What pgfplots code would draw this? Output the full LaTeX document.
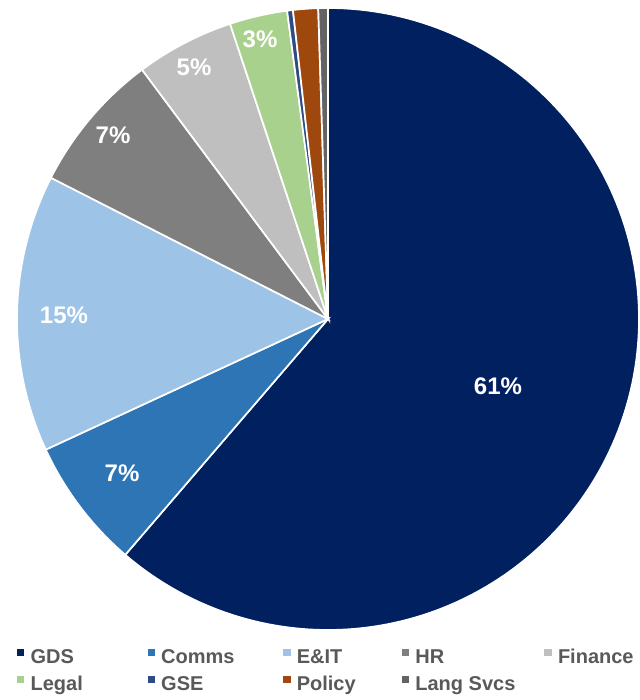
\documentclass[border=0pt]{standalone}
\usepackage{pgfplots}
\pgfplotsset{compat=1.18}
\usepackage{pgfplotstable}
\usepackage{fontspec}
\setmainfont{Liberation Sans}

\definecolor{cGDS}{HTML}{002060}
\definecolor{cComms}{HTML}{2E75B6}
\definecolor{cEIT}{HTML}{9DC3E6}
\definecolor{cHR}{HTML}{7F7F7F}
\definecolor{cFin}{HTML}{BFBFBF}
\definecolor{cLegal}{HTML}{A9D18E}
\definecolor{cGSE}{HTML}{2F4B85}
\definecolor{cPolicy}{HTML}{9E480E}
\definecolor{cLang}{HTML}{636363}
\definecolor{cText}{HTML}{595959}

\pgfplotstableread{
name value
GDS 61.3
Comms 6.8
EIT 14.4
HR 7.3
Finance 5.1
Legal 3.0
GSE 0.3
Policy 1.3
LangSvcs 0.5
}\piedata

\newcommand\slice[2]{%
  \addplot[fill=#2, draw=white, line width=1.7bp,
    domain=\csname sb#1\endcsname:\csname sa#1\endcsname, samples=150]
    ({311*cos(x)},{311*sin(x)}) -- (axis cs:0,0) -- cycle;}

\begin{document}
\begin{tikzpicture}
\def\cum{0}
\pgfplotsforeachungrouped \i in {0,...,8}{%
  \pgfplotstablegetelem{\i}{value}\of\piedata
  \pgfmathsetmacro\sa{90-3.6*\cum}%
  \pgfmathsetmacro\cum{\cum+\pgfplotsretval}%
  \pgfmathsetmacro\sb{90-3.6*\cum}%
  \expandafter\xdef\csname sa\i\endcsname{\sa}%
  \expandafter\xdef\csname sb\i\endcsname{\sb}%
}
\begin{axis}[
  x=1bp, y=1bp,
  xmin=-328, xmax=310, ymin=-381, ymax=319,
  hide axis, clip=false,
  legend columns=5,
  legend image code/.code={\path[#1,draw=none] (0bp,2bp) rectangle (7.3bp,9.3bp);},
  legend style={draw=none, fill=none, inner sep=0pt, outer sep=0pt,
    at={(axis cs:-311,-352.5)}, anchor=west,
    font=\fontsize{20bp}{24bp}\selectfont\bfseries, text=cText,
    row sep=8bp,
    nodes={inner sep=0pt, text height=15bp, text depth=4bp},
    /tikz/every odd column/.append style={column sep=6.3bp}},
  legend cell align=left,
]
\path (axis cs:-328,-381) rectangle (axis cs:310,319);
\slice{0}{cGDS}\addlegendentry{\makebox[117bp][l]{GDS}}
\slice{1}{cComms}\addlegendentry{\makebox[122bp][l]{Comms}}
\slice{2}{cEIT}\addlegendentry{\makebox[105bp][l]{E\&IT}}
\slice{3}{cHR}\addlegendentry{\makebox[129bp][l]{HR}}
\slice{4}{cFin}\addlegendentry{Finance}
\slice{5}{cLegal}\addlegendentry{\makebox[117bp][l]{Legal}}
\slice{6}{cGSE}\addlegendentry{\makebox[122bp][l]{GSE}}
\slice{7}{cPolicy}\addlegendentry{\makebox[105bp][l]{Policy}}
\slice{8}{cLang}\addlegendentry{\makebox[129bp][l]{Lang Svcs}}
\begin{scope}[every node/.style={text=white, font=\fontsize{24bp}{28bp}\selectfont\bfseries}]
\node at (axis cs:170,-67) {61\%};
\node at (axis cs:-206,-154) {7\%};
\node at (axis cs:-264,4) {15\%};
\node at (axis cs:-215,184) {7\%};
\node at (axis cs:-134,252) {5\%};
\node at (axis cs:-68,280) {3\%};
\end{scope}
\end{axis}
\end{tikzpicture}
\end{document}
